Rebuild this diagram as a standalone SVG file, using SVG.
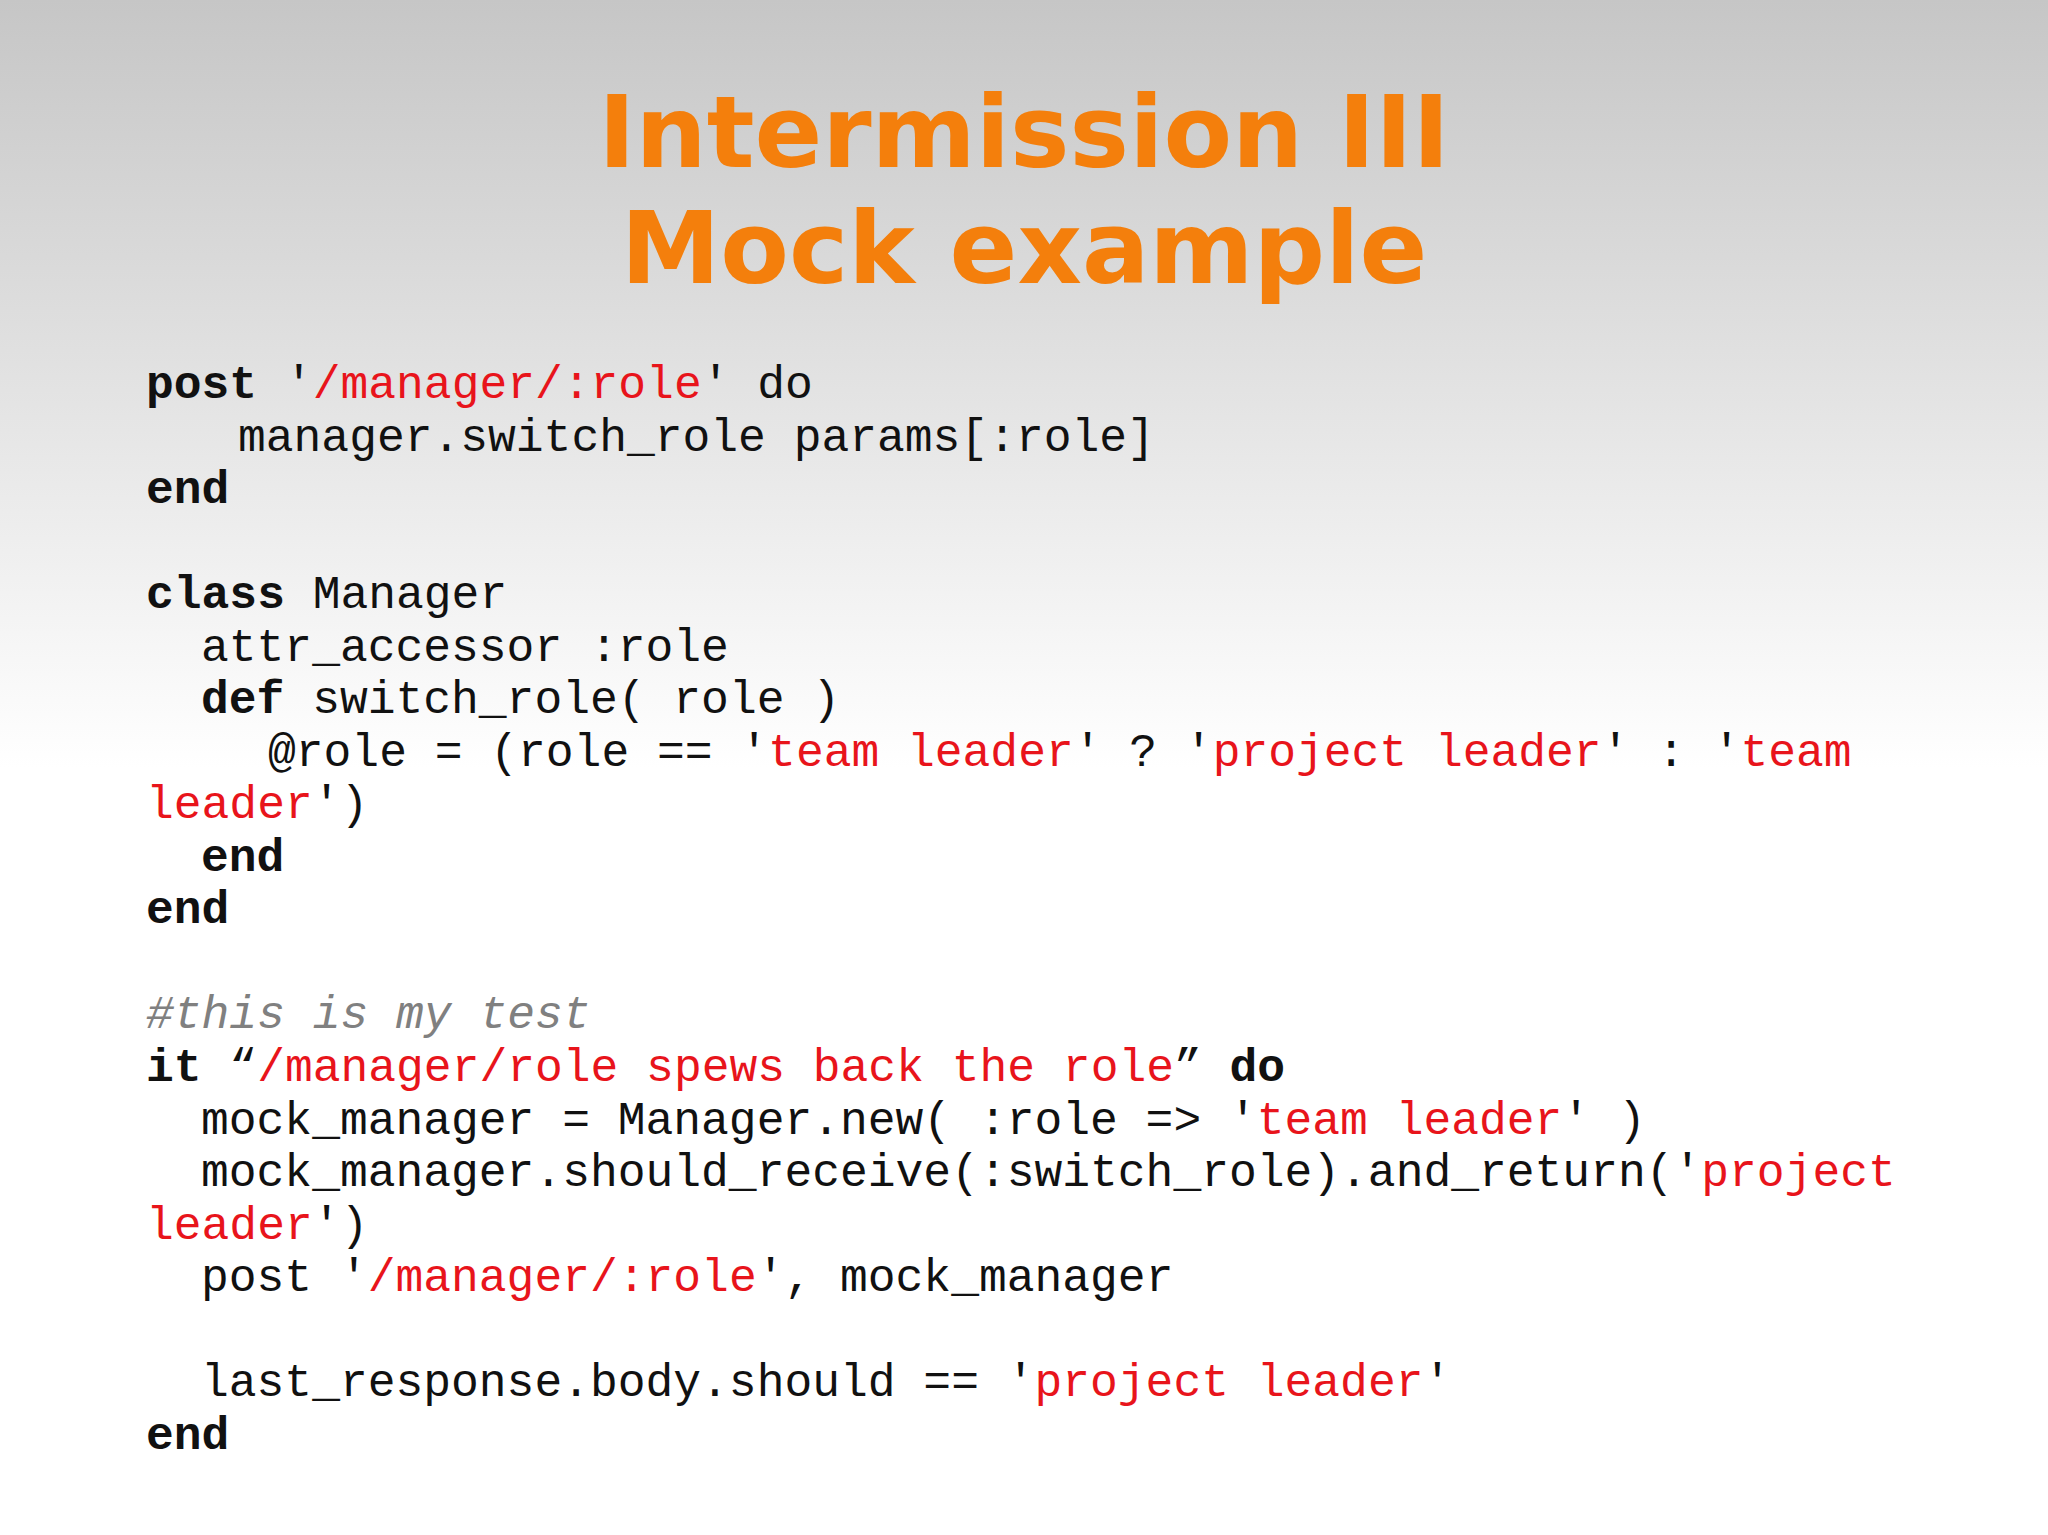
<svg xmlns="http://www.w3.org/2000/svg" width="2048" height="1535" viewBox="0 0 2048 1535">
<defs>
<linearGradient id="bg" x1="0" y1="0" x2="0" y2="1">
<stop offset="0" stop-color="#c6c6c6"/><stop offset="0.5" stop-color="#ffffff"/><stop offset="1" stop-color="#ffffff"/>
</linearGradient>
<style>
.t{font-family:"DejaVu Sans",sans-serif;font-weight:bold;font-size:100px;fill:#f47f0c;text-anchor:middle}
.c{font-family:"Liberation Mono","Courier New",monospace;font-size:46.3px;fill:#111;white-space:pre}
.k{font-weight:bold}
.s{fill:#e8141b}
.m{fill:#808080;font-style:italic}
</style>
</defs>
<rect width="2048" height="1535" fill="url(#bg)"/>
<text class="t" x="1024" y="167">Intermission III</text>
<text class="t" x="1024" y="283">Mock example</text>
<g class="c" xml:space="preserve">
<text x="146" y="398"><tspan class="k">post</tspan> '<tspan class="s">/manager/:role</tspan>' do</text>
<text x="238" y="451">manager.switch_role params[:role]</text>
<text x="146" y="503" class="k">end</text>
<text x="146" y="608"><tspan class="k">class</tspan> Manager</text>
<text x="201" y="661">attr_accessor :role</text>
<text x="201" y="713"><tspan class="k">def</tspan> switch_role( role )</text>
<text x="268" y="766">@role = (role == '<tspan class="s">team leader</tspan>' ? '<tspan class="s">project leader</tspan>' : '<tspan class="s">team</tspan></text>
<text x="146" y="818"><tspan class="s">leader</tspan>')</text>
<text x="201" y="871" class="k">end</text>
<text x="146" y="923" class="k">end</text>
<text x="146" y="1028" class="m">#this is my test</text>
<text x="146" y="1081"><tspan class="k">it</tspan> “<tspan class="s">/manager/role spews back the role</tspan>” <tspan class="k">do</tspan></text>
<text x="201" y="1134">mock_manager = Manager.new( :role =&gt; '<tspan class="s">team leader</tspan>' )</text>
<text x="201" y="1186">mock_manager.should_receive(:switch_role).and_return('<tspan class="s">project</tspan></text>
<text x="146" y="1239"><tspan class="s">leader</tspan>')</text>
<text x="201" y="1291">post '<tspan class="s">/manager/:role</tspan>', mock_manager</text>
<text x="201" y="1396">last_response.body.should == '<tspan class="s">project leader</tspan>'</text>
<text x="146" y="1449" class="k">end</text>
</g>
</svg>
